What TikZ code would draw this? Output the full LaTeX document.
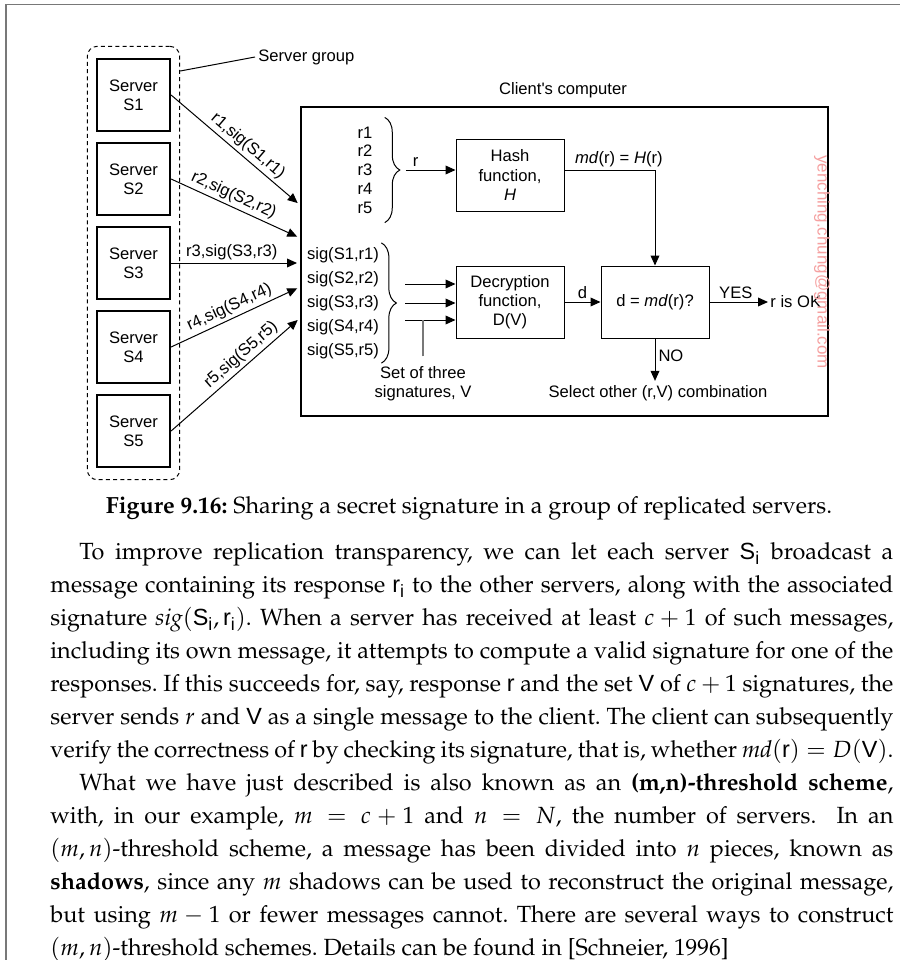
\documentclass[tikz,border=0pt]{standalone}
\usepackage[no-math]{fontspec}
\usepackage[T1]{fontenc}
\usepackage{mathpazo}
\usepackage{amsmath}
\newfontfamily\arialfont{Liberation Sans}
\usetikzlibrary{arrows.meta,positioning,calc,decorations.pathreplacing,fit}
\definecolor{framecol}{RGB}{120,120,120}
\definecolor{wmcol}{RGB}{245,160,160}
\newcommand{\dfont}{\arialfont\fontsize{8.3pt}{9.6pt}\selectfont}
\newcommand{\bfnt}{\fontsize{11.7pt}{16.5pt}\selectfont\frenchspacing}
\newcommand{\sv}[1]{\text{\arialfont #1}}
\tikzset{
  srvbox/.style={draw, line width=1.1pt, minimum width=36.5pt, minimum height=36pt,
    align=center, inner sep=0pt, font=\dfont},
  funcbox/.style={draw, line width=0.5pt, minimum width=54pt, minimum height=36pt,
    align=center, inner sep=0pt, font=\dfont},
  grpbox/.style={draw, dash pattern=on 2pt off 1.6pt, line width=0.5pt,
    rounded corners=5pt, inner xsep=4.3pt, inner ysep=5.8pt},
  msgln/.style={-{Triangle[length=5pt,width=4.4pt]}, line width=0.5pt, shorten >=1.5pt},
  flowln/.style={-{Triangle[length=5pt,width=4.4pt]}, line width=0.5pt},
  brc/.style={decorate, decoration={brace, amplitude=7.5pt}, line width=0.5pt},
  dlbl/.style={font=\dfont, inner sep=1.5pt},
  bodytxt/.style={text width=421.5pt, align=justify, inner sep=0pt, font=\bfnt},
}

\begin{document}
\begin{tikzpicture}[x=0.5pt,y=-0.5pt]
  \useasboundingbox (0,0) rectangle (900,960);
  % Page rule
  \draw[framecol, line width=0.8pt] (900,4.5) -- (6,4.5) -- (6,960);
  % Servers and their group
  \foreach \i/\y in {1/95,2/179,3/263,4/347,5/431}
    \node[srvbox] (s\i) at (133.5,\y) {Server\\S\i};
  \node[grpbox, fit=(s1)(s5)] (grp) {};
  \node[dlbl, anchor=west] (grplbl) at (255,57) {Server group};
  \draw[line width=0.5pt] (grp.east |- 0,71) -- (grplbl.west);
  % Client's computer
  \node[draw, line width=1pt, minimum width=263.5pt, minimum height=154.5pt,
    inner sep=0pt] (client) at (564.5,261.5) {};
  \node[dlbl] (cltlbl) at (563,90) {Client\textquotesingle s computer};
  % Signed responses sent to the client
  \foreach \i/\y/\p in {1/205/0.54,2/238/0.45,3/263/0.47,4/287/0.49,5/318/0.6}
    \draw[msgln] (s\i.east) -- (client.west |- 0,\y)
      node[dlbl, sloped, above, pos=\p] {r\i,sig(S\i,r\i)};
  % Responses and hash function
  \node[dlbl, align=right, inner xsep=6pt, inner ysep=4.5pt,
    font={\arialfont\fontsize{8.3pt}{9.35pt}\selectfont}] (rlist) at (365,170)
    {r1\\r2\\r3\\r4\\r5};
  \draw[brc] (rlist.north east) -- (rlist.south east);
  \coordinate (rtip) at ($(rlist.east)+(15,0)$);
  \node[funcbox] (hash) at (510,175) {Hash\\function,\\\textit{H}};
  \draw[flowln] ($(rtip)+(6,0)$) -- (rtip -| hash.west)
    node[dlbl, above, pos=0.2] {r};
  % Signatures and decryption function
  \node[dlbl, align=left, inner xsep=1pt, inner ysep=2pt,
    font={\arialfont\fontsize{8.3pt}{12pt}\selectfont}] (sigs) at (343,303)
    {sig(S1,r1)\\sig(S2,r2)\\sig(S3,r3)\\sig(S4,r4)\\sig(S5,r5)};
  \draw[brc] (sigs.north east) -- (sigs.south east);
  \coordinate (stip) at ($(sigs.east)+(16,0)$);
  \node[funcbox] (dec) at (510,302) {Decryption\\function,\\D(V)};
  \foreach \k/\dy in {1/-19,2/0,3/17} {
    \coordinate (sa\k) at ($(stip)+(8,\dy)$);
    \draw[flowln] (sa\k) -- (sa\k -| dec.west);
  }
  \node[dlbl, align=center, inner sep=1pt] (settxt) at (423,384)
    {Set of three\\signatures, V};
  \draw[framecol, line width=0.6pt, shorten <=4pt] (settxt.north) -- (settxt.north |- sa3);
  % Comparison
  \node[funcbox] (cmp) at (655,302) {d = \textit{md}(r)?};
  \draw[flowln] (hash.east |- rtip) -| (cmp.north)
    node[dlbl, above, pos=0.3] {\textit{md}(r) = \textit{H}(r)};
  \draw[flowln] (dec) -- (cmp) node[dlbl, midway, above] {d};
  \node[dlbl, anchor=west, inner sep=1pt] (ok) at (768,302) {r is OK};
  \draw[flowln] (cmp) -- (ok) node[dlbl, pos=0.45, above] {YES};
  \node[dlbl, inner sep=2pt] (sel) at (658,393) {Select other (r,V) combination};
  \draw[flowln] (cmp.south) -- (cmp.south |- sel.north)
    node[dlbl, right, pos=0.4] {NO};
  % Watermark
  \node[font=\arialfont\fontsize{8.5pt}{10pt}\selectfont, text=wmcol, rotate=-90]
    (wm) at (822,262) {yenching.chung@gmail.com};
  % Caption and text
  \node[font=\bfnt, inner sep=0pt] (cap) at (469,508)
    {\textbf{Figure 9.16:} Sharing a secret signature in a group of replicated servers.};
  \node[bodytxt, anchor=north west] (body) at (50,542) {%
    \hspace*{14.5pt}To improve replication transparency, we can let each server $\sv{S}_{\sv{i}}$ broadcast a\linebreak
    message containing its response $\sv{r}_{\sv{i}}$ to the other servers, along with the associated\linebreak
    signature $\mathit{sig}(\sv{S}_{\sv{i}}, \sv{r}_{\sv{i}})$. When a server has received at least $c+1$ of such messages,\linebreak
    including its own message, it attempts to compute a valid signature for one of the\linebreak
    responses. If this succeeds for, say, response \sv{r} and the set \sv{V} of $c+1$ signatures, the\linebreak
    server sends $r$ and \sv{V} as a single message to the client. The client can subsequently\linebreak
    verify the correctness of \sv{r} by checking its signature, that is, whether $\mathit{md}(\sv{r}) = D(\sv{V})$.\par
    \hspace*{14.5pt}What we have just described is also known as an \textbf{(m,n)-threshold scheme},\linebreak
    with, in our example, $m = c+1$ and $n = N$, the number of servers.\ \ In an\linebreak
    $(m,n)$-threshold scheme, a message has been divided into $n$ pieces, known as\linebreak
    \textbf{shadows}, since any $m$ shadows can be used to reconstruct the original message,\linebreak
    but using $m-1$ or fewer messages cannot. There are several ways to construct\linebreak
    $(m,n)$-threshold schemes. Details can be found in [Schneier, 1996]};
\end{tikzpicture}
\end{document}
